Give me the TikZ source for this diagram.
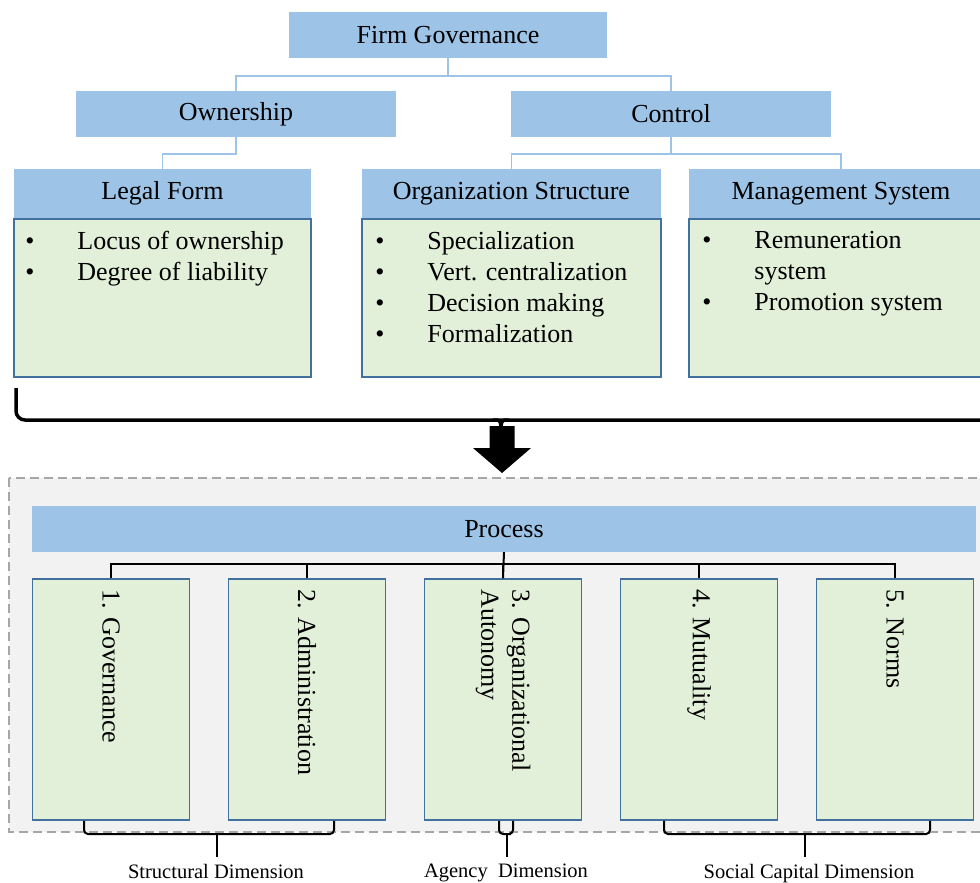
\documentclass[tikz,border=0pt]{standalone}
\usepackage{fontspec}
\setmainfont{Liberation Serif}
\usetikzlibrary{positioning}

\definecolor{hdrblue}{HTML}{9DC3E6}
\definecolor{boxgreen}{HTML}{E2F0D9}
\definecolor{edgeblue}{HTML}{41719C}
\definecolor{zonegray}{HTML}{F2F2F2}
\definecolor{dashgray}{HTML}{A6A6A6}

\newcommand{\bitem}[1]{\makebox[52pt][l]{\textbullet}#1}

\begin{document}
\begin{tikzpicture}[x=1pt,y=-1pt,font=\fontsize{26}{31}\selectfont,
	hdr/.style={fill=hdrblue,inner sep=0pt,minimum height=46pt},
	sub/.style={fill=hdrblue,inner sep=0pt,minimum height=49pt},
	itembox/.style={fill=boxgreen,draw=edgeblue,line width=1.5pt,minimum height=158pt,inner sep=0pt},
	items/.style={anchor=north west,align=left,inner sep=0pt},
	leaf/.style={fill=boxgreen,draw=edgeblue,line width=1.5pt,minimum width=157pt,minimum height=241pt,inner sep=0pt},
	vlabel/.style={rotate=-90,anchor=west,align=left,inner sep=0pt},
	tree/.style={draw=hdrblue,line width=1.5pt},
	bus/.style={draw=black,line width=2pt},
	bigbrace/.style={draw=black,line width=3.5pt,rounded corners=9pt},
	dimbrace/.style={draw=black,line width=2pt,rounded corners=4pt},
	dimlabel/.style={anchor=north,inner xsep=0pt,inner ysep=7pt,font=\fontsize{20.5}{24}\selectfont},
	zone/.style={fill=zonegray,draw=dashgray,line width=1.5pt,dash pattern=on 9pt off 5pt}]
	\useasboundingbox (0,0) rectangle (980,883);
	\clip (0,0) rectangle (980,883);

	\node[hdr,minimum width=318pt] (fg) at (448,35) {Firm Governance};
	\node[hdr,minimum width=320pt] (own) at (236,114) {Ownership};
	\node[hdr,minimum width=320pt] (ctl) at (671,114) {Control};
	\node[sub,minimum width=297pt] (lf) at (162.5,193.5) {Legal Form};
	\node[sub,minimum width=299pt] (os) at (511.5,193.5) {Organization Structure};
	\node[sub,minimum width=304pt] (ms) at (841,193.5) {Management System};

	\node[itembox,minimum width=297pt,below=0pt of lf] (lfb) {};
	\node[itembox,minimum width=299pt,below=0pt of os] (osb) {};
	\node[itembox,minimum width=304pt,below=0pt of ms] (msb) {};
	\node[items] (lft) at ([xshift=12pt,yshift=-13pt]lfb.north west) {\bitem{Locus of ownership}\\\bitem{Degree of liability}};
	\node[items] (ost) at ([xshift=14pt,yshift=-13pt]osb.north west) {\bitem{Specialization}\\\bitem{Vert. centralization}\\\bitem{Decision making}\\\bitem{Formalization}};
	\node[items] (mst) at ([xshift=14pt,yshift=-13pt]msb.north west) {\bitem{Remuneration}\\\hspace*{52pt}system\\\bitem{Promotion system}};

	\draw[tree] (fg.south) -- ++(0,18) -| (own.north);
	\draw[tree] (fg.south) -- ++(0,18) -| (ctl.north);
	\draw[tree] (own.south) -- ++(0,17) -| (lf.north);
	\draw[tree] (ctl.south) -- ++(0,17) -| (os.north);
	\draw[tree] (ctl.south) -- ++(0,17) -| (ms.north);

	\coordinate (bl) at (16,388);
	\coordinate (br) at (990,388);
	\coordinate (bmid) at (501,420);
	\coordinate (btip) at (501,426);
	\draw[bigbrace] (bl) |- (bmid) -| (br);
	\draw[line width=3.5pt] (493,420) .. controls (500,420) .. (btip) .. controls (502,420) .. (509,420);
	\fill (489.5,426) -- (514.5,426) -- (514.5,448) -- (531,448) -- (502,473) -- (473,448) -- (489.5,448) -- cycle;

	\draw[zone] (9,478) rectangle (1000,832);
	\node[hdr,minimum width=944pt] (proc) at (504,529) {Process};

	\node[leaf] (c1) at (111,699.5) {};
	\node[leaf,on grid,right=196pt of c1] (c2) {};
	\node[leaf,on grid,right=196pt of c2] (c3) {};
	\node[leaf,on grid,right=196pt of c3] (c4) {};
	\node[leaf,on grid,right=196pt of c4] (c5) {};
	\node[vlabel] (v1) at ([yshift=-11pt]c1.north) {1. Governance};
	\node[vlabel] (v2) at ([yshift=-11pt]c2.north) {2. Administration};
	\node[vlabel] (v3) at ([yshift=-11pt]c3.north) {3. Organizational\\Autonomy};
	\node[vlabel] (v4) at ([yshift=-11pt]c4.north) {4. Mutuality};
	\node[vlabel] (v5) at ([yshift=-11pt]c5.north) {5. Norms};

	\draw[bus] (proc.south) -- (c3.north);
	\foreach \c in {c1,c2,c4,c5}
		\draw[bus] (\c.north) -- ++(0,-14) -| (c3.north);

	\coordinate (stip) at (217,834);
	\coordinate (atip) at (507,834);
	\coordinate (ctip) at (805,834);
	\node[dimlabel] (sd) at (216,857) {Structural Dimension};
	\node[dimlabel] (ad) at (506,857) {Agency\enspace Dimension};
	\node[dimlabel] (cd) at (809,857) {Social Capital Dimension};
	\draw[dimbrace] ([xshift=-27pt]c1.south) |- (stip) -| ([xshift=27pt]c2.south);
	\draw[dimbrace] ([xshift=-4pt]c3.south) |- (atip) -| ([xshift=10pt]c3.south);
	\draw[dimbrace] ([xshift=-35pt]c4.south) |- (ctip) -| ([xshift=35pt]c5.south);
	\draw[dimbrace] (stip) -- (stip |- sd.north);
	\draw[dimbrace] (atip) -- (atip |- ad.north);
	\draw[dimbrace] (ctip) -- (ctip |- cd.north);
\end{tikzpicture}
\end{document}
